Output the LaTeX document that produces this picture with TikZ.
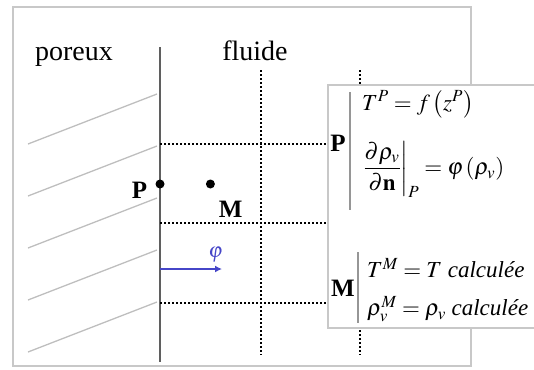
\documentclass[tikz,border=0pt]{standalone}
\usepackage{mathptmx}
\usepackage{fontspec}
\setmainfont{Liberation Serif}
\usetikzlibrary{arrows.meta,positioning}
\definecolor{frameclr}{RGB}{200,200,200}
\definecolor{wallclr}{RGB}{95,95,95}
\definecolor{hatchclr}{RGB}{190,190,190}
\definecolor{fluxclr}{RGB}{70,70,200}
\definecolor{barclr}{RGB}{150,150,150}
\tikzset{
  %% outer frame and formula box
  framebox/.style={draw=frameclr,line width=1.6pt},
  eqbox/.style={rectangle,draw=frameclr,line width=1.6pt,fill=white,
    minimum width=220pt,minimum height=243pt,inner sep=0pt},
  %% wall and porous hatching
  wall/.style={wallclr,line width=1.8pt},
  hatch/.style={hatchclr,line width=1.3pt},
  %% mesh lines
  gridln/.style={black,line width=2.8pt,dash pattern=on 2.4pt off 1.6pt},
  %% texts
  lbl/.style={font=\fontsize{28}{30}\selectfont,inner sep=0pt},
  ptlbl/.style={font=\fontsize{25}{28}\selectfont\bfseries,inner sep=0pt},
  eqn/.style={font=\fontsize{23}{30}\selectfont,align=left,inner sep=0pt,anchor=west},
  %% points and flux
  ptdot/.style={circle,fill=black,inner sep=0pt,minimum size=9pt},
  flux/.style={-{Latex[length=7pt,width=7pt]},fluxclr,line width=2.4pt},
  barln/.style={barclr,line width=2pt},
}

\begin{document}
\begin{tikzpicture}[x=1pt,y=-1pt]
  \useasboundingbox (0,0) rectangle (534,369);

  %% outer frame
  \draw[framebox] (13,7) rectangle (471,366);

  %% porous side: hatching then wall
  \foreach \y in {94,146,198,250,302}
    \draw[hatch] (28,\y+50) -- (157,\y);
  \coordinate (wtop) at (160,47);
  \coordinate (wbot) at (160,362);
  \draw[wall] (wtop) -- (wbot);

  %% headings
  \node[lbl,anchor=base] (por) at (74,60) {poreux};
  \node[lbl,anchor=base] (flu) at (255,60) {fluide};

  %% mesh columns
  \coordinate (c1t) at (261,70);  \coordinate (c1b) at (261,355);
  \coordinate (c2t) at (360,70);  \coordinate (c2b) at (360,355);
  \draw[gridln] (c1t) -- (c1b);
  \draw[gridln] (c2t) -- (c2b);

  %% formula box (runs off the right edge)
  \node[eqbox] (box) at (438,206.5) {};

  %% mesh rows, wall to box
  \foreach \y [count=\i] in {144,223,303}
    \coordinate (r\i) at (160,\y);
  \foreach \i in {1,2,3}
    \draw[gridln] (r\i) -- (r\i -| box.west);

  %% points P and M
  \node[ptdot] (pp) at (160,184) {};
  \node[ptdot,right=41pt of pp] (mm) {};
  \node[ptlbl,left=8pt of pp,yshift=-6pt] (plbl) {P};
  \node[ptlbl,below right=14pt and 5pt of mm] (mlbl) {M};

  %% flux at the wall
  \coordinate (fs) at (160,269);
  \coordinate (fe) at (222,269);
  \draw[flux] (fs) -- (fe);
  \node[font=\fontsize{21}{22}\selectfont,inner sep=0pt,text=fluxclr,
    above left=7pt and -1pt of fe] (phi) {$\varphi$};

  %% box contents: condition at P
  \node[ptlbl] (pk) at (338,143) {P};
  \coordinate (pbt) at (350,92);
  \coordinate (pbb) at (350,210);
  \draw[barln] (pbt) -- (pbb);
  \node[eqn] (peq) at (362,144)
    {$T^{P}=f\left(z^{P}\right)$\\[22pt]
     $\left.\displaystyle\frac{\partial\rho_v}{\partial\mathbf{n}}\right|_{P}=\varphi\left(\rho_v\right)$};

  %% box contents: values at M
  \node[ptlbl] (mk) at (343,288) {M};
  \coordinate (mbt) at (358,252);
  \coordinate (mbb) at (358,323);
  \draw[barln] (mbt) -- (mbb);
  \node[eqn] (meq) at (367,290)
    {$T^{M}=T$ \textit{calculée}\\[8pt]
     $\rho_v^{M}=\rho_v$ \textit{calculée}};

\end{tikzpicture}
\end{document}
